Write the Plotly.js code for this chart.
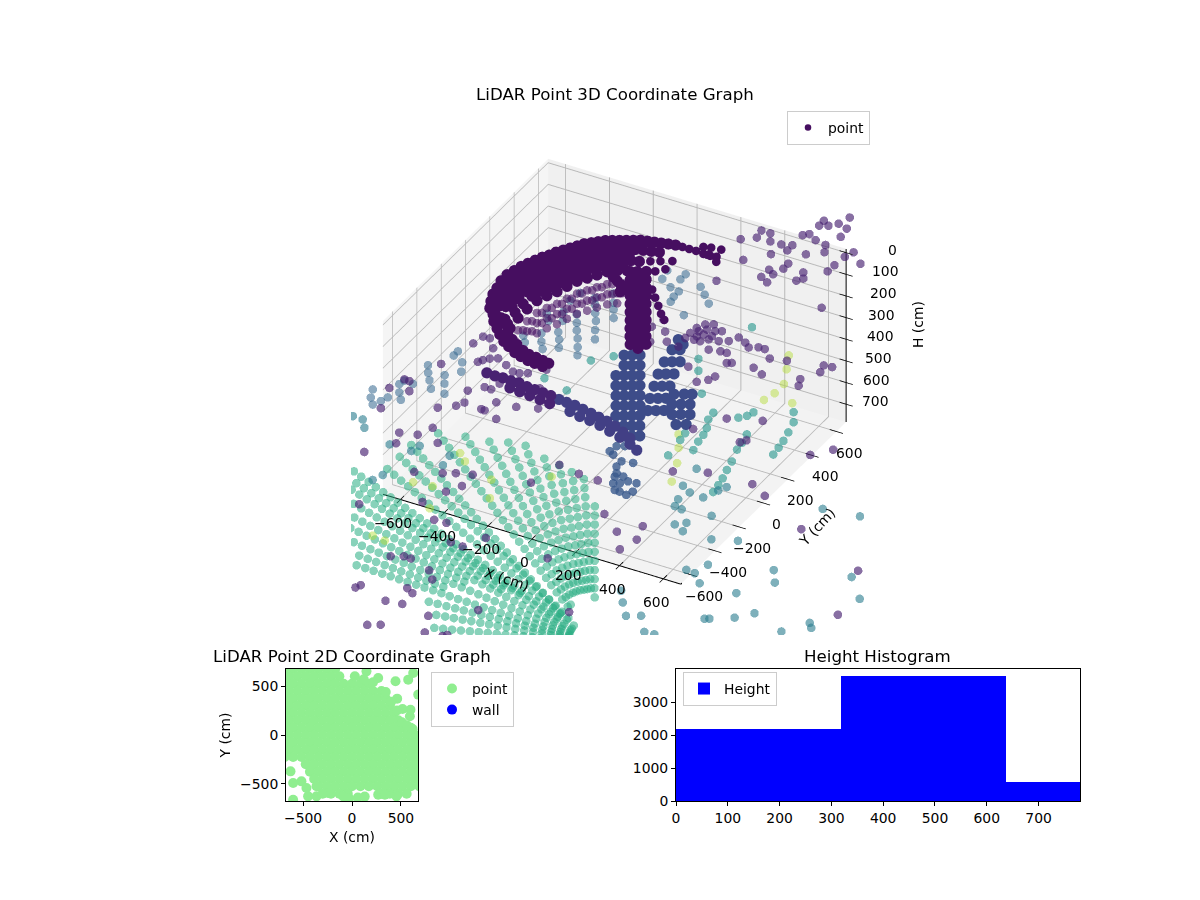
<!DOCTYPE html><html><head><meta charset="utf-8"><script src="https://cdn.plot.ly/plotly-3.0.1.min.js"></script>
<style>html,body{margin:0;background:#fff}</style></head><body><div id="g" style="width:1200px;height:900px"></div><script>
const xTicks=[-600,-400,-200,0,200,400,600], yTicks=[-600,-400,-200,0,200,400,600], zTicks=[0,100,200,300,400,500,600,700];
const wallH=50, wallPts=[[-406,-295],[-427,-248],[-445,-199],[-453,-152],[-464,-98],[-465,-47],[-454,-7],[-445,33],[-432,66],[-418,100],[-404,133],[-387,159],[-374,192],[-356,219],[-339,246],[-322,273],[-306,300],[-284,321],[-264,341],[-243,362],[-219,376],[-194,390],[-170,404],[-146,418],[-122,432],[-94,439],[-66,447],[-39,454],[-11,462],[18,469],
[-352,-333],[-381,-264],[-396,-196],[-404,-141],[-405,-90],[-395,-41],[-381,1],[-368,43],[-351,77],[-334,113],[-317,148],[-297,177],[-280,212],[-259,241],[-239,270],[-215,293],[-190,315],[-162,331],[-135,347],[-107,363],[-76,373],[-44,382],[-13,392],
[-314,-337],[-332,-245],[-337,-179],[-334,-118],[-325,-69],[-311,-28],[-294,7],[-277,43],[-264,85],[-247,120],[-230,156],[-213,191],[-193,220],[-168,243],[-140,259],[-113,275],[-82,284],[-50,294],
[-264,-385],[-272,-304],[-273,-228],[-268,-156],[-251,-105],[-230,-59],[-214,-6],[-197,46],[-173,86],[-150,125],[-125,165],[-94,191],[-60,211],[-21,225],
[-379,-314],[-404,-256],[-420,-198],[-428,-146],[-434,-94],[-430,-44],[-417,-3],[-406,38],[-391,71],[-376,106],[-360,140],[-342,168],[-327,202],[-307,230],[-289,258],[-268,286],[-248,306],[-221,331],[-200,344],[-175,362],[-150,375],[-122,390],[-98,403],
[-333,-335],[-356,-254],[-366,-187],[-369,-129],[-365,-79],[-353,-34],[-337,4],[-322,43],[-307,81],[-290,116],[-273,152],[-255,184],[-236,216],[-213,242],[-189,264],[-164,284],[-136,299],[-106,312],
[-289,-361],[-302,-274],[-305,-203],[-301,-137],[-288,-87],[-270,-43],[-254,0],[-237,44],[-218,85],[-198,122],[-177,160],[-153,191],[-126,215],[-94,234],
[-373,-328],[-345,-372],[-309,-411],[-306,-367],[-278,-444],[-260,-409],[-239,-481],[-218,-452],[-204,-504],[-183,-475],[-161,-531],[-140,-502],[-126,-545],[-105,-516],[-87,-557],[-70,-521],[-53,-562],[-35,-528],[-14,-567],[-4,-535],
[-45,211],[-17,159],[12,107],[41,55],[69,3],[98,-49],[127,-101],[155,-153],[184,-205],[213,-256],
[-4,201],[25,149],[53,97],[82,45],[111,-7],[139,-59],[168,-111],[197,-163],[225,-214],[254,-266],
[10,243],[38,191],[67,139],[96,87],[124,35],[153,-17],[182,-69],[210,-121],[239,-173],[268,-224],
[-86,144],[-58,126],[-30,108],[-2,82],[-9,61]];
const tailH=50, tailPts=[[49,470],[80,470],[111,471],[147,466],[178,467],[203,473],[95,138],[134,92],[174,46],[212,0],[245,-33],[-12,316],[23,336],[69,294],[41,261],[64,360],[122,511],[152,521],[194,528],[164,468],[220,440]];
const stripeH=60, stripePts=[[-228,-450],[-236,-369],[-237,-293],[-232,-221],[-215,-170],[-194,-124],[-178,-71],[-161,-19],[-137,21],[-114,60],[-89,100],[-58,126],[-24,146],[15,160],
[-201,-358],[-196,-286],[-179,-235],[-158,-189],[-142,-136],[-125,-84],[-101,-44],[-78,-5],[-53,35],[-22,61],[12,81],
[-160,-351],[-143,-300],[-122,-254],[-106,-201],[-89,-149],[-65,-109],[-42,-70],[-17,-30],[14,-4],
[-211,-440],[-219,-359],[-220,-283],[-215,-211],[-198,-160],[-177,-114],[-161,-61],[-144,-9],[-120,31],[-97,70],[-72,110],[-41,136],[-7,156],
[-184,-348],[-179,-276],[-162,-225],[-141,-179],[-125,-126],[-108,-74],[-84,-34],[-61,5],[-36,45],[-5,71]];
const arcLeftH=100, arcLeftPts=[[-225,-646],[-186,-650],[-151,-647],[-114,-650],[-78,-647],[-36,-657],[2,-661],[41,-665],[79,-668],[-91,-698],[-43,-704],[6,-709],[56,-715],[104,-722]];
const arcH=180, arcPts=[[60,-566],[97,-570],[136,-573],[178,-583],[221,-593],[262,-603],[304,-613],[350,-630],[399,-652],[445,-677],
[141,-622],[193,-635],[242,-641],[295,-653],[350,-672],[407,-691],[467,-716],[512,-741]];
const leafH=220, leafPts=[[143,-247],[179,-312],[215,-376],[251,-441],[286,-506],[322,-571],[99,-101],[135,-166],[171,-231],[207,-296],[243,-360],[279,-425],[314,-490],[350,-555],[386,-620],[127,-85],[163,-150],[199,-215],[235,-280],[271,-344],[307,-409],[342,-474],[378,-539],[414,-604],[118,-4],[154,-69],[190,-134],[226,-199],[262,-264],[298,-328],[334,-393],[369,-458],[405,-523],[441,-588],
[379,-410],[407,-394],[435,-378],[343,-328],[371,-312],[398,-296],[314,-242],[342,-226],[369,-210],[285,-156],[312,-140],[340,-124],[263,-66],[290,-50],[318,-34],[247,27],[275,43],[233,104],[267,82],
[412,-254],[447,-234],[475,-219],[441,-323],[472,-305],[504,-288],[477,-388],[508,-370],[540,-353],[527,-445],[562,-425]];
const purpleH=100, purplePts=[[412,941],[411,981],[445,958],[473,991],[490,1052],[519,975],[527,911],[388,848],[408,868],[451,841],[388,763],[347,747],[389,720],[269,797],[228,798],[237,744],[298,745],[186,702],[345,665],[269,574],[503,829],[627,836],[525,781],[468,731],[613,790],[606,717],[692,776],[440,596],[439,638],[392,500],[394,561],[424,540],[523,610],[604,664],[545,571],[528,544],[432,476],[250,388],[713,419],
[344,-39],[344,3],[349,48],[366,87],[395,104],[448,76],[507,26],[379,-6],[396,19],[431,24],[472,6],[467,-68],[514,-56],[542,-54],[595,-109],[529,68],[570,48],[599,23],[633,43],[661,44],[712,-7],[780,12],[367,30],[390,57],[424,63],[408,-31],[381,-33],[431,-3],
[235,-131],[251,-37],[187,-31],[203,36],[293,-98],[351,-107],[457,-217],[540,-298],[574,-263],[585,-228],[578,-119],[688,-97],[741,-124],[892,-80],[910,-126],[925,53],[960,59],[937,3],
[-367,-421],[-337,-419],[-377,-484],[-290,-477],[-295,-593],[-284,-572],[-265,-549],[-237,-532],[-185,-559],[-138,-588],[-109,-586],[-80,-569],[-28,-511],[-228,-797],[-182,-742],[-151,-744],[-142,-691],[-101,-681],[-67,-661],[-416,-678],[-466,-849],[-489,-848],[-430,-914],[-511,-932],[-272,-965],[-197,-880],[-115,-890],[-87,-817],[15,-643],[81,-776],
[-469,-1078],[-318,-1199],[-246,-1177],[-215,-917],[-99,-892],[-28,-924],[-1,-808],[-218,-1104],[-147,-1191],[-291,-1274],[-126,-1422],[-22,-1376],[24,-1350],[88,-1327],[55,-1487],[91,-1420],[10,-1599],[114,-1691],[168,-1687],[252,-1802],[308,-1807],[359,-1707],[92,-2009],[138,-1983],[170,-1984],[276,-2024],[320,-2077],[263,-2181],[299,-2203],[302,-2292],[232,-2304],[90,-2252],[80,-2277],[-203,-1736],[-371,-1391],[356,-1096],[320,-1265],[456,-1116],[545,-1121],[688,-1324],[865,-1328],[794,-1413],[892,-1426],[867,-1520],[1183,-897],[1098,-846],[905,-601],[922,-577],[909,-420],[775,-475],[695,-607],[775,-918],[902,-859],[1429,-1040],[1196,-547],[1258,-469],[1861,-1518],[1775,-1197],[647,-1718],[913,-2021],[589,-2184],[435,-2318],[300,-2467],[254,-2494],[482,-2431],[556,-2420],[569,-2404]];
const blueH=300, bluePts=[[-380,127],[-348,83],[-329,171],[-298,111],[-272,180],[-242,126],[-213,224],[-182,175],[-161,282],[-131,228],[-267,321],[-243,278],[-218,386],[-185,326],[-337,324],[-344,256],[-274,31],[-244,-16],[-329,-9],[-299,-63],[-269,-108],[-383,-60],[-354,-100],[-216,78],[-184,27],[-153,-28],[-216,-69],[-125,-80],[-120,55],[-153,115],[62,596],[104,554],[150,505],[-35,605],[-35,648],[-42,536],[2,525],[3,482],[10,443],[104,383],[-113,637],[-100,573],
[-611,-434],[-584,-482],[-518,-465],[-488,-520],[-472,-411],[-502,-349],[-556,-322],[-556,-287],[-552,-528],[-597,-583],[-644,-610],[-614,-664],[-639,-578],[-637,-718],[-718,-696],[-696,-752],[-664,-793],[-583,-708],[-648,-755],[-452,-585],[-517,-579]];
const columnH=260, columnPts=[[384,-704],[438,-774],[468,-842],[509,-875],[515,-928],[531,-847],[584,-903],[573,-937],[567,-842],[462,-817],[497,-825],[360,-689],[437,-731],[483,-719],[394,-627],[366,-644],[486,-888],[538,-929]];
const tealH=380, tealPts=[[957,-1135],[1014,-1060],[998,-1140],[1051,-1195],[1263,-967],[1311,-1045],[1214,-1187],[803,-1395],[851,-1467],[910,-1547],[1295,-1348],[1349,-1281],[1194,-1413],[1211,-1403],[1576,-1236],[1599,-1265],[1508,-1346],[1031,-1614],[1074,-1610],[962,-1517],[1559,-861],[1665,-985],[1216,-480],[1373,-456],[1034,-849],[936,-891],[790,-833],[807,-894],[690,-748],[725,-756],[853,-740],[755,-866],[677,-698],[758,-638],[633,-467],[694,-632],[803,-526],[786,-564],[646,-602],
[-708,-797],[-672,-847],[-525,-905],[-440,-1114],[-458,-1166],[-426,-905],[-415,-856],[-265,-935],[-275,-861],[-754,-795]];
const greenH=470, greenPts=[[704,-459],[698,-405],[689,-353],[674,-291],[661,-227],[637,-141],[630,-88],[617,-24],[781,-102],[775,-48],[768,5],[755,69],[737,144],[701,209],[486,-228],[473,-164],[467,-111],[455,-61],[430,-4],[423,50],[528,67],[552,95],[562,130],[404,-189],[397,-136],[417,-311],[180,366],[222,290],[315,150],[254,673],[-168,-91],[-190,148],[-126,219],[-289,-56]];
const paleH=790, palePts=[[132,288],[229,101],[276,-28],[180,202],[-160,-230],[-360,-365],[-299,-487],[-517,-299],[-564,-255],[-575,-954],[-516,-962],[-473,-668],[-625,-532],[-542,-521],[236,1008],[278,914],[321,815],[308,674],[321,738],[418,708]];
const fanH=560;
const fanXLines=[
[643,605,567,529,490,452,414,376,338,300,262,224,186,148,110,71,33],
[648,612,576,540,504,468,431,395,359,323,287,250,214,178,142,106],
[621,587,553,519,485,451,417,383,349,315,281,247,213,179,145],
[639,599,560,520,481,441,402,362,323,283,244,204,165,125,86,46,7,-33,-72,-112,-151,-191,-230,-270,-309,-349],
[30,-10,-51,-91,-131,-172,-212,-252,-293,-333,-374],
[633,592,550,509,468,426,385,344,303,261,220,179,138,96,55,14,-28,-69,-110,-152,-193,-234,-276,-317,-358,-400,-441],
[85,43,1,-41,-83,-125,-167,-209,-251,-293,-335,-377,-419,-461,-503],
[629,586,543,500,457,415,372,329,286,243,200,158,115,72,29,-13,-56,-99,-142,-185,-227,-270,-313,-356,-399,-441,-484,-527],
[240,197,154,110,67,24,-19,-62,-105,-148,-191,-234,-277,-320,-363,-406,-449,-492,-535,-578],
[627,583,540,496,453,409,366,322,279,235,192,148,105,61,18,-26,-69,-113,-156,-200,-243,-287,-330,-374,-417,-461,-504,-548,-591,-635],
[320,276,233,189,145,102,58,14,-30,-73,-117,-161,-204,-248,-292,-336,-379,-423,-467,-510,-554,-598,-642],
[537,494,450,406,362,318,274,230,187,143,99,55,11,-33,-77,-121,-165,-209,-252,-296,-340,-384,-428,-472,-516,-560,-604,-648,-692],
[623,578,533,489,444,399,354,310,265,220,176,131,86,41,-3,-48,-93,-137,-182,-227,-272,-316,-361,-406,-450,-495,-540,-584],
[578,533,489,444,399,354,310,265,220,176,131,86,41,-3,-48,-93,-137,-182,-227,-272,-316,-361,-406,-450,-495,-540,-584],
[533,488,444,399,354,309,265,220,175,130,85,41,-4,-49,-94,-138,-183,-228,-273,-318,-362,-407,-452,-497,-541,-586],
[535,490,446,401,357,312,268,223,179,134,90,45,1,-44,-88,-133,-177,-222,-266,-311,-355,-400,-444,-489,-534],
[538,494,450,407,363,319,275,231,188,144,100,56,12,-32,-75,-119,-163,-207,-251,-294,-338,-382,-426],
[497,454,411,367,324,281,237,194,151,108,64,21,-22,-66,-109,-152,-195,-239,-282,-325],
[504,461,419,377,335,293,250,208,166,124,82,39,-3,-45,-87,-129,-172,-214,-256],
[511,470,429,389,348,307,266,225,184,143,102,61,20,-21,-62,-103,-144,-184],
[520,481,441,402,362,323,283,244,204,165,125,86,46,7,-33,-73],
[531,493,456,418,380,343,305,267,229,192,154,116,79,41,3],
[541,504,468,432,396,360,324,288,252,216,179,143,107,71],
[551,516,482,447,413,379,344,310,275,241,207,172,138],
[596,563,531,499,466,434,402,370,337,305,273]];
const fanYLines=[
[-1540,-1543,-1546,-1549,-1552,-1555,-1558,-1561,-1564,-1567,-1570,-1573,-1576,-1579,-1582,-1585,-1588],
[-1552,-1559,-1566,-1573,-1580,-1587,-1595,-1602,-1609,-1616,-1623,-1630,-1637,-1644,-1651,-1658],
[-1579,-1591,-1603,-1615,-1626,-1638,-1650,-1662,-1674,-1686,-1698,-1710,-1722,-1734,-1745],
[-1527,-1526,-1525,-1524,-1523,-1523,-1522,-1521,-1520,-1519,-1518,-1517,-1515,-1514,-1512,-1508,-1506,-1505,-1503,-1502,-1501,-1499,-1498,-1497,-1495,-1494],
[-1464,-1461,-1457,-1453,-1449,-1446,-1442,-1438,-1435,-1431,-1427],
[-1512,-1506,-1500,-1494,-1488,-1482,-1475,-1469,-1463,-1457,-1451,-1444,-1438,-1432,-1426,-1419,-1413,-1407,-1401,-1395,-1388,-1382,-1376,-1370,-1364,-1358,-1351],
[-1390,-1381,-1373,-1364,-1355,-1346,-1337,-1329,-1320,-1311,-1302,-1293,-1285,-1276,-1267],
[-1497,-1486,-1475,-1463,-1452,-1441,-1429,-1418,-1407,-1395,-1384,-1373,-1361,-1350,-1339,-1328,-1316,-1305,-1294,-1282,-1271,-1260,-1248,-1237,-1226,-1215,-1203,-1192],
[-1367,-1353,-1339,-1326,-1312,-1298,-1285,-1271,-1257,-1243,-1230,-1216,-1202,-1189,-1175,-1161,-1148,-1134,-1120,-1106],
[-1483,-1467,-1451,-1435,-1419,-1403,-1387,-1371,-1355,-1339,-1323,-1307,-1291,-1275,-1259,-1243,-1227,-1211,-1195,-1179,-1163,-1147,-1131,-1115,-1099,-1083,-1067,-1051,-1035,-1019],
[-1355,-1338,-1320,-1302,-1285,-1267,-1250,-1232,-1214,-1197,-1179,-1162,-1144,-1126,-1109,-1091,-1074,-1056,-1038,-1021,-1003,-985,-968],
[-1435,-1416,-1397,-1377,-1358,-1339,-1320,-1301,-1281,-1262,-1243,-1224,-1205,-1185,-1166,-1147,-1128,-1109,-1089,-1070,-1051,-1032,-1013,-993,-974,-955,-936,-917,-897],
[-1460,-1436,-1412,-1388,-1365,-1341,-1317,-1293,-1269,-1246,-1222,-1198,-1174,-1150,-1127,-1103,-1079,-1055,-1031,-1007,-984,-960,-936,-912,-888,-865,-841,-817],
[-1422,-1395,-1367,-1340,-1313,-1286,-1259,-1231,-1204,-1177,-1150,-1123,-1095,-1068,-1041,-1014,-987,-959,-932,-905,-878,-851,-823,-796,-769,-742,-715],
[-1405,-1374,-1342,-1310,-1279,-1247,-1216,-1184,-1153,-1121,-1090,-1058,-1027,-995,-964,-932,-900,-869,-837,-806,-774,-743,-711,-680,-648,-617,-585],
[-1351,-1315,-1280,-1244,-1208,-1172,-1136,-1100,-1064,-1028,-992,-956,-921,-885,-849,-813,-777,-741,-705,-669,-633,-597,-562,-526,-490],
[-1332,-1293,-1253,-1213,-1173,-1134,-1094,-1054,-1015,-975,-935,-895,-856,-816,-776,-737,-697,-657,-617,-578,-538,-498,-459],
[-1270,-1227,-1183,-1140,-1096,-1053,-1009,-966,-922,-879,-835,-792,-748,-705,-661,-618,-574,-531,-487,-444],
[-1251,-1205,-1158,-1112,-1065,-1018,-972,-925,-879,-832,-785,-739,-692,-646,-599,-552,-506,-459,-413],
[-1236,-1187,-1138,-1089,-1040,-990,-941,-892,-843,-794,-745,-695,-646,-597,-548,-499,-450,-401],
[-1221,-1170,-1118,-1066,-1015,-963,-912,-860,-808,-757,-705,-653,-602,-550,-498,-447],
[-1210,-1157,-1103,-1050,-996,-943,-889,-836,-782,-729,-675,-622,-568,-515,-461],
[-1199,-1144,-1088,-1033,-978,-923,-867,-812,-757,-701,-646,-591,-535,-480],
[-1188,-1131,-1073,-1016,-959,-902,-844,-787,-730,-673,-615,-558,-501],
[-1239,-1181,-1122,-1064,-1005,-947,-889,-831,-772,-714,-655]];
const planRowY=[675,600,525,450,375,300,225,150,75,0,-75,-150,-225,-300,-375,-450,-525,-600];
const planRowX=[
[-688,-602,-516,-430,-344,-258,-172],
[-645,-559,-473,-387,-301,-215,-129],
[-688,-602,-516,-430,-344,-258,-172,-86,0,86,172],
[-645,-559,-473,-387,-301,-215,-129,-43,43,129,215,301],
[-688,-602,-516,-430,-344,-258,-172,-86,0,86,172,258,344],
[-645,-559,-473,-387,-301,-215,-129,-43,43,129,215,301,387],
[-688,-602,-516,-430,-344,-258,-172,-86,0,86,172,258,344,430],
[-645,-559,-473,-387,-301,-215,-129,-43,43,129,215,301,387,473],
[-688,-602,-516,-430,-344,-258,-172,-86,0,86,172,258,344,430,516,602],
[-645,-559,-473,-387,-301,-215,-129,-43,43,129,215,301,387,473,559,645],
[-688,-602,-516,-430,-344,-258,-172,-86,0,86,172,258,344,430,516,602,688],
[-645,-559,-473,-387,-301,-215,-129,-43,43,129,215,301,387,473,559,645],
[-688,-602,-516,-430,-344,-258,-172,-86,0,86,172,258,344,430,516,602,688],
[-473,-387,-301,-215,-129,-43,43,129,215,301,387,473,559,645],
[-430,-344,-258,-172,-86,0,86,172,258,344,430,516,602,688],
[-387,-301,-215,-129,-43,43,129,215,301,387,473,559,645],
[-344,-258,-172,-86,0,86,172,258,344,430,516,602,688],
[-215,-129,-43,301,387,473,559]];
const planExtraX=[29,148,268,445,462,517,598,592,575,626,677,-629,-602,-517,-466,-449,-363,-363,-602,-244,-90,268,336,455,215,120,345,400,460,510,560,620,-300,-30,60,130];
const planExtraY=[600,651,583,549,372,266,259,191,566,634,413,-372,-491,-474,-542,-627,-525,-627,-662,-593,-627,-610,-610,-627,540,570,440,340,250,130,100,60,-600,-650,-640,-630];
const wallX=[null], wallY=[null];
const histLefts=[0,318.5,637], histWidths=[318.5,318.5,318.5], histCounts=[2180,3790,575];
const histTicks=[0,100,200,300,400,500,600,700];
const zLabelShift=[46,39,37,35,34,32,30,29];

const L=1.293,k=4,hz=0.606*L;
const cam={eye:{x:3,y:-5.41,z:4.015},center:{x:0,y:0,z:0},up:{x:0,y:0,z:1},projection:{type:'orthographic'}};
const dom={x:[351/1200,878/1200],y:[265/900,792/900]};
const f14={family:'DejaVu Sans',size:13.9,color:'#000'};
const f17={family:'DejaVu Sans',size:16.67,color:'#000'};
const ax3={showbackground:true,showgrid:true,gridcolor:'#b8b8b8',gridwidth:2,showline:false,ticks:'',showticklabels:false,zeroline:false,showspikes:false,title:{text:''}};
const ann=[];
xTicks.forEach(t=>ann.push({x:t,y:-680,z:782,text:String(t).replace('-','\u2212'),showarrow:false,xshift:-7,yshift:-23,font:f14}));
yTicks.forEach(t=>ann.push({x:680,y:t,z:782,text:String(t).replace('-','\u2212'),showarrow:false,xshift:13,yshift:-21,font:f14}));
zTicks.forEach((t,i)=>ann.push({x:680,y:680,z:t,text:String(t),showarrow:false,xshift:zLabelShift[i],yshift:3,font:f14}));
const scene={domain:dom,aspectmode:'manual',aspectratio:{x:L,y:L,z:hz},camera:cam,bgcolor:'rgba(0,0,0,0)',annotations:ann,
 xaxis:{...ax3,range:[-680,680],tickvals:xTicks,backgroundcolor:'#f5f5f5'},yaxis:{...ax3,range:[-680,680],tickvals:yTicks,backgroundcolor:'#f0f0f0'},zaxis:{...ax3,range:[782,-18],tickvals:zTicks,backgroundcolor:'#f3f3f3'}};
const none={visible:false,showbackground:false,showgrid:false,zeroline:false,showticklabels:false,showspikes:false,title:{text:''}};
const scene2={domain:dom,aspectmode:'manual',aspectratio:{x:L*k,y:L*k,z:hz*k},camera:cam,bgcolor:'rgba(0,0,0,0)',
 xaxis:{...none,range:[-680*k,680*k]},yaxis:{...none,range:[-680*k,680*k]},zaxis:{...none,range:[382+400*k,382-400*k]}};
function group(pts,h,op,size,extra){const z=pts.map(()=>h);return Object.assign({type:'scatter3d',mode:'markers',scene:'scene2',x:pts.map(p=>p[0]),y:pts.map(p=>p[1]),z,showlegend:false,hoverinfo:'skip',marker:{size,color:z,colorscale:'Viridis',cmin:20,cmax:890,opacity:op,line:{width:0}}},extra||{});}
const fanPts=[];fanXLines.forEach((l,i)=>l.forEach((v,j)=>fanPts.push([v,fanYLines[i][j]])));
const axX=[-680,680,null,680,680,null,680,680],axY=[-680,-680,null,-680,680,null,680,680],axZ=[782,782,null,782,782,null,782,-18];
const tX=[],tY=[],tZ=[];
xTicks.forEach(t=>{tX.push(t,t,null);tY.push(-710,-650,null);tZ.push(782,782,null);});
yTicks.forEach(t=>{tX.push(650,710,null);tY.push(t,t,null);tZ.push(782,782,null);});
zTicks.forEach(t=>{tX.push(650,710,null);tY.push(680,680,null);tZ.push(t,t,null);});
const planX=[],planY=[];planRowX.forEach((r,i)=>r.forEach(v=>{planX.push(v);planY.push(planRowY[i]);}));planX.push(...planExtraX);planY.push(...planExtraY);
const traces=[
 {type:'scatter3d',mode:'lines',scene:'scene',x:axX,y:axY,z:axZ,line:{color:'#000',width:2},showlegend:false,hoverinfo:'skip'},
 {type:'scatter3d',mode:'lines',scene:'scene2',x:tX,y:tY,z:tZ,line:{color:'#000',width:1.5},showlegend:false,hoverinfo:'skip'},
 group(fanPts,fanH,.55,5), group(palePts,paleH,.45,5), group(greenPts,greenH,.6,5), group(tealPts,tealH,.6,5), group(bluePts,blueH,.55,5), group(purplePts,purpleH,.65,5), group(columnPts,columnH,.8,5),
 group(stripePts,stripeH,.6,5), group(arcLeftPts,arcLeftH,1,6.5), group(arcPts,arcH,1,6.5), group(leafPts,leafH,1,6.5), group(tailPts,tailH,1,5),
 group(wallPts,wallH,1,6.5,{name:'point',showlegend:true,legend:'legend'}),
 {type:'scatter',mode:'markers',xaxis:'x',yaxis:'y',name:'point',x:planX,y:planY,marker:{size:10,color:'#90ee90'},legend:'legend2',hoverinfo:'skip'},
 {type:'scatter',mode:'markers',xaxis:'x',yaxis:'y',name:'wall',x:wallX,y:wallY,marker:{size:10,color:'#0000ff'},legend:'legend2',hoverinfo:'skip'},
 {type:'bar',xaxis:'x2',yaxis:'y2',name:'Height',x:histLefts,width:histWidths,offset:0,y:histCounts,marker:{color:'#0000ff',line:{width:0}},legend:'legend3',hoverinfo:'skip'}
];
const ax2d={showline:true,mirror:true,linecolor:'#000',linewidth:1,ticks:'outside',ticklen:4,tickcolor:'#000',showgrid:false,zeroline:false,tickfont:f14};
const leg=(x,y)=>({x:x/1200,y:1-y/900,xanchor:'left',yanchor:'top',bgcolor:'rgba(255,255,255,.8)',bordercolor:'#ccc',borderwidth:1,font:f14,itemsizing:'trace'});
const pt=(t,x,y,extra)=>Object.assign({text:t,xref:'paper',yref:'paper',x:x/1200,y:1-y/900,xanchor:'center',yanchor:'middle',showarrow:false,font:f14},extra||{});
const layout={width:1200,height:900,margin:{l:0,r:0,t:0,b:0},paper_bgcolor:'#fff',plot_bgcolor:'#fff',font:f14,scene,scene2,showlegend:true,bargap:0,
 legend:leg(787,111),legend2:leg(431,672),legend3:leg(683,672),
 xaxis:{...ax2d,domain:[286/1200,418/1200],range:[-675,675],tickvals:[-500,0,500],anchor:'y',title:{text:'X (cm)',font:f14,standoff:7}},
 yaxis:{...ax2d,domain:[99/900,231/900],range:[-675,675],tickvals:[-500,0,500],anchor:'x',title:{text:'Y (cm)',font:f14,standoff:6}},
 xaxis2:{...ax2d,domain:[676/1200,1080/1200],range:[0,780],tickvals:histTicks,anchor:'y2'},
 yaxis2:{...ax2d,domain:[99/900,231/900],range:[0,4000],tickvals:[0,1000,2000,3000],anchor:'x2'},
 annotations:[
  pt('LiDAR Point 3D Coordinate Graph',615,95,{font:f17}),
  pt('LiDAR Point 2D Coordinate Graph',352,656,{font:f17}),
  pt('Height Histogram',877,656,{font:f17}),
  pt('X (cm)',507,579,{textangle:18}),pt('Y (cm)',817,527,{textangle:-47}),pt('H (cm)',918,325,{textangle:-90})
 ]};
Plotly.newPlot('g',traces,layout,{displayModeBar:false});
</script></body></html>
